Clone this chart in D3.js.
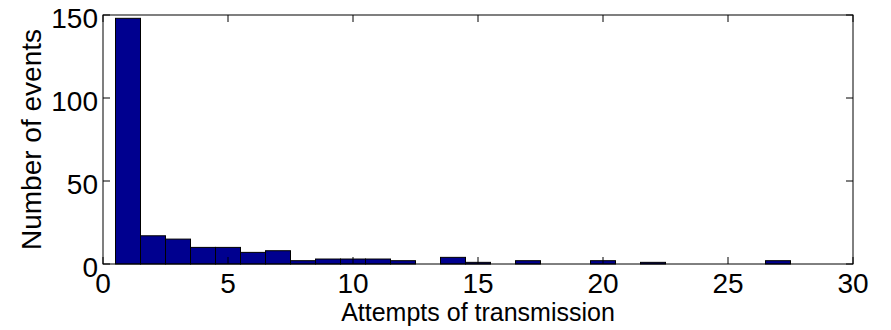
<!DOCTYPE html>
<html>
<head>
<meta charset="utf-8">
<script src="https://cdn.jsdelivr.net/npm/d3@7"></script>
<style>
  body { margin: 0; background: #fff; }
  text { font-family: "Liberation Sans", Arial, sans-serif; fill: #000; }
</style>
</head>
<body>
<div id="chart"></div>
<script>
// histogram bins (centres) and counts
const attempts = [1, 2, 3, 4, 5, 6, 7, 8, 9, 10, 11, 12, 13, 14, 15, 16, 17, 18, 19, 20, 21, 22, 23, 24, 25, 26, 27];
const counts = [148, 17, 15, 10, 10, 7, 8, 2, 3, 3, 3, 2, 0, 4, 1, 0, 2, 0, 0, 2, 0, 1, 0, 0, 0, 0, 2];
const xTicks = [0, 5, 10, 15, 20, 25, 30];
const yTicks = [0, 50, 100, 150];

const width = 891, height = 330;
const margin = { top: 15, right: 38, bottom: 66, left: 103 };

const svg = d3.select('#chart').append('svg')
  .attr('width', width)
  .attr('height', height);

const x = d3.scaleLinear().domain([0, 30]).range([margin.left, width - margin.right]);
const y = d3.scaleLinear().domain([0, 150]).range([height - margin.bottom, margin.top]);

// bars
svg.append('g')
  .selectAll('rect')
  .data(attempts.map((a, i) => [a, counts[i]]).filter(d => d[1] > 0))
  .enter()
  .append('rect')
  .attr('x', d => x(d[0] - 0.5))
  .attr('width', d => x(d[0] + 0.5) - x(d[0] - 0.5))
  .attr('y', d => y(d[1]))
  .attr('height', d => y(0) - y(d[1]))
  .attr('fill', '#00008f')
  .attr('stroke', '#000')
  .attr('stroke-width', 1);

const tickLen = 7;
const fs = 28;

// ticks (inward, on all four sides)
const ticks = svg.append('g').attr('stroke', '#000').attr('stroke-width', 1);
xTicks.forEach(t => {
  ticks.append('line').attr('x1', x(t)).attr('x2', x(t)).attr('y1', y(0)).attr('y2', y(0) - tickLen);
  ticks.append('line').attr('x1', x(t)).attr('x2', x(t)).attr('y1', y(150)).attr('y2', y(150) + tickLen);
});
yTicks.forEach(t => {
  ticks.append('line').attr('x1', x(0)).attr('x2', x(0) + tickLen).attr('y1', y(t)).attr('y2', y(t));
  ticks.append('line').attr('x1', x(30)).attr('x2', x(30) - tickLen).attr('y1', y(t)).attr('y2', y(t));
});

// box
svg.append('rect')
  .attr('x', x(0)).attr('y', y(150))
  .attr('width', x(30) - x(0)).attr('height', y(0) - y(150))
  .attr('fill', 'none').attr('stroke', '#000').attr('stroke-width', 1);

// tick labels
svg.append('g').selectAll('text')
  .data(xTicks).enter().append('text')
  .attr('x', d => x(d))
  .attr('y', y(0) + 29)
  .attr('text-anchor', 'middle')
  .style('font-size', fs + 'px')
  .text(d => d);

svg.append('g').selectAll('text')
  .data(yTicks).enter().append('text')
  .attr('x', x(0) - 5)
  .attr('y', d => y(d) + 13)
  .attr('text-anchor', 'end')
  .style('font-size', fs + 'px')
  .text(d => d);

// axis labels
svg.append('text')
  .attr('x', (x(0) + x(30)) / 2)
  .attr('y', 321)
  .attr('text-anchor', 'middle')
  .style('font-size', '25px')
  .text('Attempts of transmission');

svg.append('text')
  .attr('transform', `translate(41, ${(y(0) + y(150)) / 2}) rotate(-90)`)
  .attr('text-anchor', 'middle')
  .style('font-size', fs + 'px')
  .text('Number of events');
</script>
</body>
</html>
